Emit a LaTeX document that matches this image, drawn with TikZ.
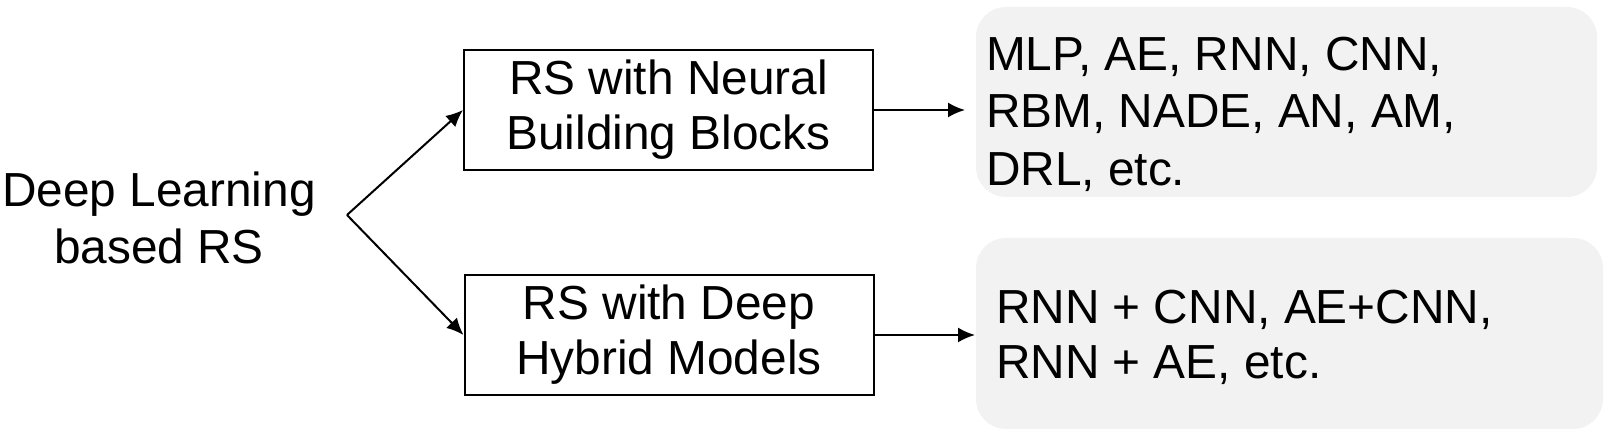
\documentclass[tikz,border=0pt]{standalone}
\usepackage{fontspec}
\setmainfont{Liberation Sans}
\usetikzlibrary{arrows.meta}
\begin{document}
\begin{tikzpicture}[x=0.5pt,y=-0.5pt,>={Latex[length=8.5pt,width=7.5pt]},line width=1pt]

      \useasboundingbox (0,0) rectangle (1608,437);

      \begin{scope}[every node/.style={fill=black!5,rounded corners=15pt,inner sep=0pt}]
        \node[minimum width=310.5pt,minimum height=95pt]   (g1) at (1286.5,102) {};
        \node[minimum width=313.5pt,minimum height=95.5pt] (g2) at (1289.5,333.5) {};
      \end{scope}

      \begin{scope}[every node/.style={align=left,anchor=north west,inner sep=0pt}]
        \node[font=\fontsize{23.9}{28.75}\selectfont] (t1) at (985,36)  {MLP, AE, RNN, CNN,\\RBM, NADE, AN, AM,\\DRL, etc.};
        \node[font=\fontsize{23.9}{27.5}\selectfont]  (t2) at (995,289) {RNN + CNN, AE+CNN,\\RNN + AE, etc.};
      \end{scope}

      \node[font=\fontsize{23.9}{28.5}\selectfont,align=center,anchor=north,inner sep=0pt] (dl) at (159,171) {Deep Learning\\based RS};

      \begin{scope}[every node/.style={draw,font=\fontsize{23.9}{27.5}\selectfont,align=center,minimum width=204.5pt,minimum height=60pt}]
        \node (nbb) at (668.5,110) {RS with Neural\\Building Blocks};
        \node (dhm) at (669,335)   {RS with Deep\\Hybrid Models};
      \end{scope}

      \coordinate (split) at (347,215);

      \path[draw,->] (split) -- (nbb.west);
      \path[draw,->] (split) -- (dhm.west);
      \path[draw,->] (nbb.east) -- ([xshift=-5pt]nbb.east -| g1.west);
      \path[draw,->] (dhm.east) -- (dhm.east -| g2.west);

    \end{tikzpicture}
\end{document}
